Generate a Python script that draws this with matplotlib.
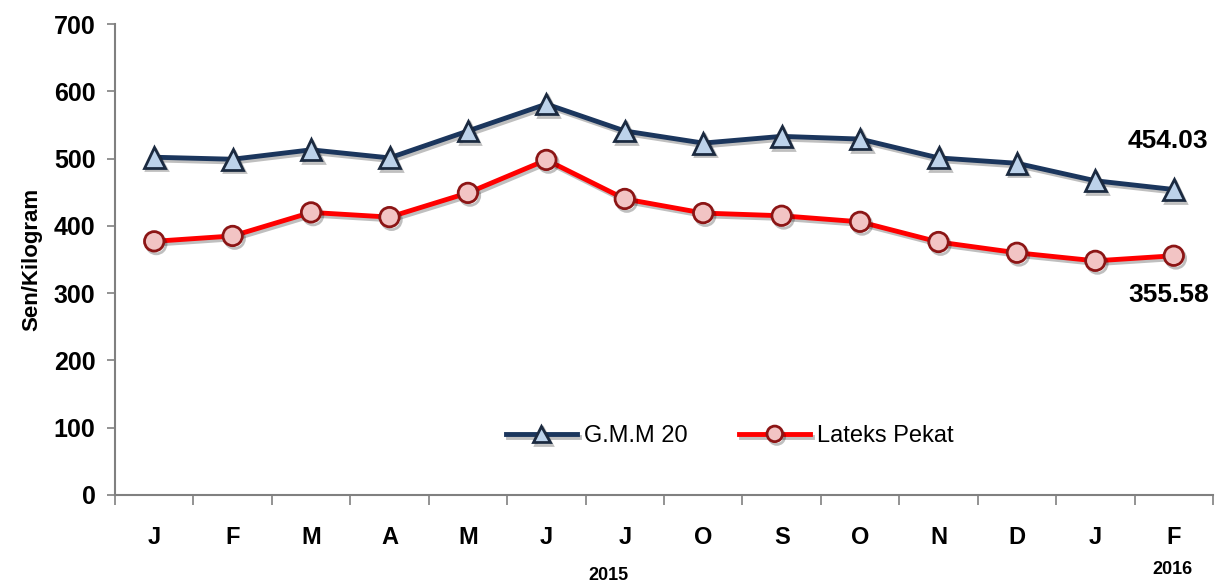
import matplotlib.pyplot as plt
import matplotlib.patheffects as pe
import numpy as np

months = ['J', 'F', 'M', 'A', 'M', 'J', 'J', 'O', 'S', 'O', 'N', 'D', 'J', 'F']
gmm20 = [502, 499, 513, 501, 541, 581, 541, 523, 533, 529, 501, 493, 467, 454.03]
lateks = [377, 385, 420, 413, 449, 498, 440, 419, 415, 406, 376, 360, 348, 355.58]

plt.rcParams['font.family'] = ['Liberation Sans', 'DejaVu Sans']

fig = plt.figure(figsize=(12.16, 5.83), dpi=100)
ax = fig.add_axes([115 / 1216, 88 / 583, 1098 / 1216, 471 / 583])

x = np.arange(len(months))
shadow = [pe.SimpleLineShadow(offset=(1.5, -2), alpha=0.25), pe.Normal()]
ax.plot(x, gmm20, color='#1b365d', lw=3.5, marker='^', ms=15,
        mfc='#bcd2ea', mec='#1b2a40', mew=2, label='G.M.M 20', path_effects=shadow)
ax.plot(x, lateks, color='#ff0000', lw=3.5, marker='o', ms=14,
        mfc='#f2c4c4', mec='#8c1515', mew=2, label='Lateks Pekat', path_effects=shadow)

ax.set_xlim(-0.5, len(months) - 0.5)
ax.set_ylim(0, 700)
ax.set_yticks(range(0, 701, 100))
ax.set_xticks(x)
ax.set_xticklabels(months, fontsize=17, fontweight='bold')
ax.set_xticks(np.arange(-0.5, len(months), 1), minor=True)
ax.tick_params(axis='x', which='major', length=0, pad=22)
ax.tick_params(axis='x', which='minor', length=7, color='#808080', width=1.2)
ax.tick_params(axis='y', length=6, color='#808080', width=1.2, labelsize=18, pad=8)
for lbl in ax.get_yticklabels():
    lbl.set_fontweight('bold')

for s in ['top', 'right']:
    ax.spines[s].set_visible(False)
for s in ['left', 'bottom']:
    ax.spines[s].set_color('#808080')
    ax.spines[s].set_linewidth(1.5)

ax.set_ylabel('Sen/Kilogram', fontsize=16, fontweight='bold', labelpad=8)

ax.annotate(f'{gmm20[-1]:.2f}', (x[-1], gmm20[-1]), xytext=(-4, 35), textcoords='offset points',
            ha='center', va='center', fontsize=19, fontweight='bold')
ax.annotate(f'{lateks[-1]:.2f}', (x[-1], lateks[-1]), xytext=(-4, -28), textcoords='offset points',
            ha='center', va='center', fontsize=19, fontweight='bold')

fig.text(608 / 1216, 1 - 575 / 583, '2015', ha='center', va='center', fontsize=13, fontweight='bold')
fig.text(1172 / 1216, 1 - 569 / 583, '2016', ha='center', va='center', fontsize=13, fontweight='bold')

ax.legend(loc='center', bbox_to_anchor=(0.56, 0.125), ncol=2, frameon=False,
          fontsize=17, handlelength=3, columnspacing=2.2, handletextpad=0.3, markerscale=0.8)

fig.savefig('out.png', dpi=100)
